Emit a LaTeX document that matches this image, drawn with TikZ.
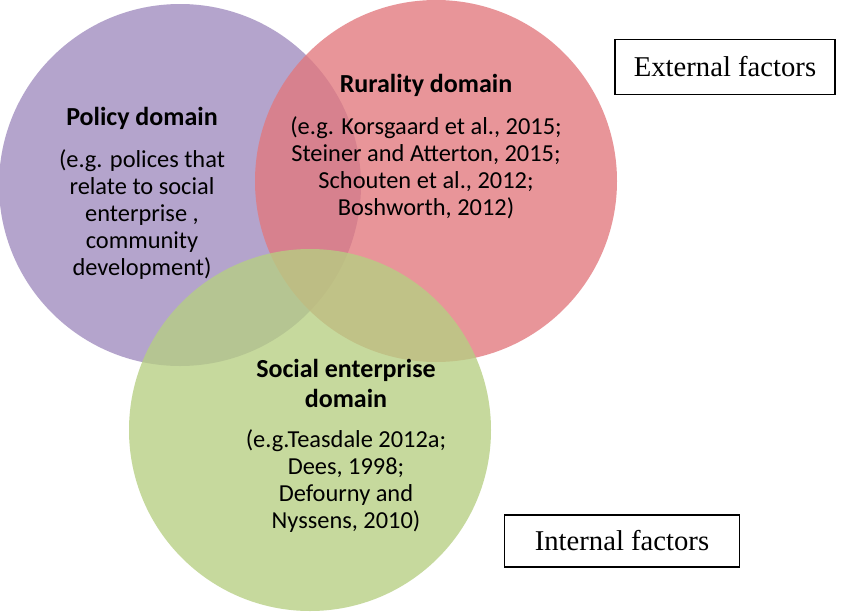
\documentclass[tikz,border=0pt]{standalone}
\usepackage{fontspec}
\setmainfont{Carlito}
\newfontfamily\tnr{Liberation Serif}
\begin{document}
\begin{tikzpicture}[x=0.75pt,y=-0.75pt,
  circ/.style={fill opacity=0.78},
  lbl/.style={align=center,font=\fontsize{18.3}{20.3}\selectfont},
  head/.style={align=center,font=\fontsize{19.5}{22.5}\selectfont\bfseries},
  factor/.style={draw=black,line width=0.8pt,font=\tnr\fontsize{21.5}{24}\selectfont,inner sep=0pt}]
\useasboundingbox (0,0) rectangle (850,611);
\fill[white] (0,0) rectangle (850,611);
\path[circ,fill={rgb,255:red,160;green,139;blue,190}] (180,185) circle (181) coordinate (cp);
\path[circ,fill={rgb,255:red,226;green,120;blue,125}] (436,181) circle (181) coordinate (cr);
\path[circ,fill={rgb,255:red,182;green,207;blue,130}] (310,430) circle (181) coordinate (cg);
\node[head] (ph) at (142,118) {Policy domain};
\node[lbl,anchor=north] (pt) at (142,145) {(e.g. polices that\\relate to social\\enterprise ,\\community\\development)};
\node[head] (rh) at (426,85) {Rurality domain};
\node[lbl,anchor=north] (rt) at (426,112) {(e.g. Korsgaard et al., 2015;\\Steiner and Atterton, 2015;\\Schouten et al., 2012;\\Boshworth, 2012)};
\node[head] (sh) at (346,383) {Social enterprise\\domain};
\node[lbl,anchor=north] (st) at (346,425) {(e.g.Teasdale 2012a;\\Dees, 1998;\\Defourny and\\Nyssens, 2010)};
\node[factor,minimum width=165pt,minimum height=41pt] (ext) at (725,67) {External factors};
\node[factor,minimum width=176pt,minimum height=39pt] (int) at (622,541) {Internal factors};
\end{tikzpicture}
\end{document}
